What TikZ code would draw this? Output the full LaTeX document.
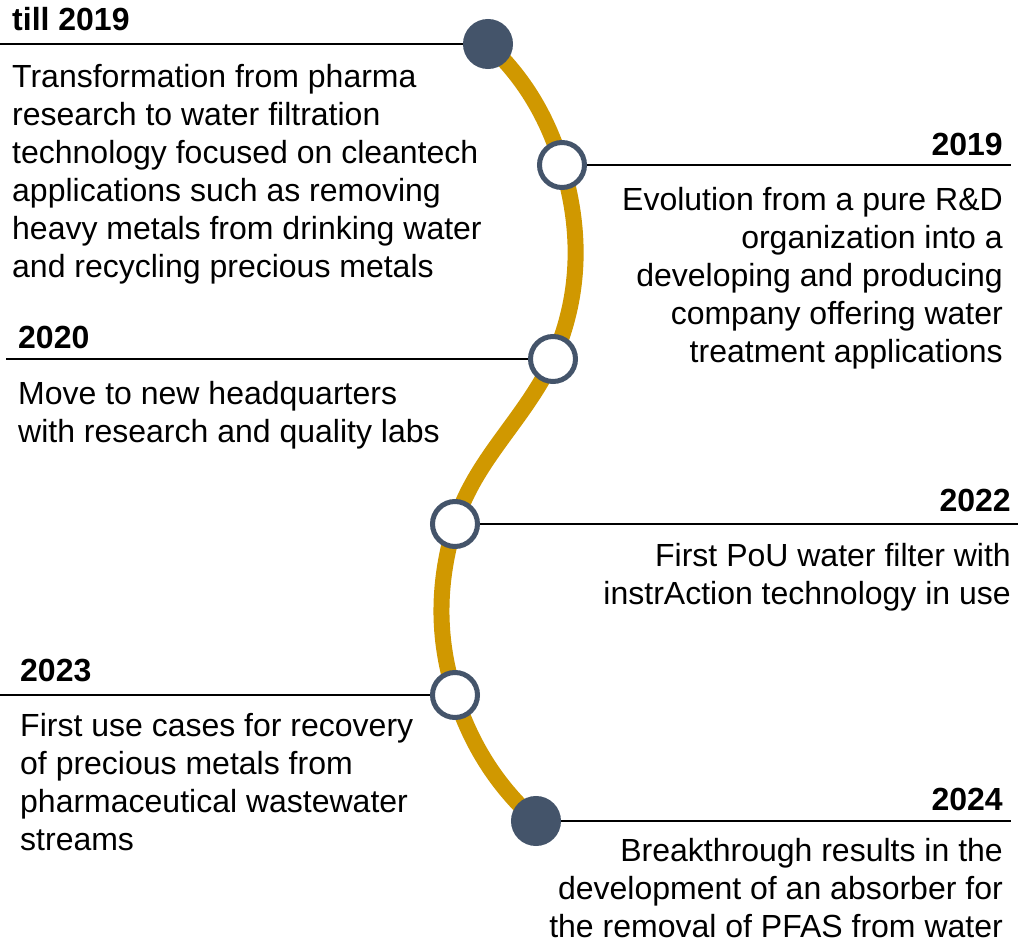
\documentclass[tikz,border=0pt]{standalone}
\usepackage{fontspec}
\setmainfont{Liberation Sans}
\usepackage{tikz}

\definecolor{timegold}{RGB}{208,152,0}
\definecolor{dotblue}{RGB}{68,84,106}

\begin{document}
\begin{tikzpicture}[x=1pt,y=-1pt,
  dot/.style={circle,draw=dotblue,line width=5pt,minimum size=45pt,inner sep=0pt,fill=white},
  fulldot/.style={dot,fill=dotblue},
  year/.style={font=\fontsize{32}{38}\selectfont\bfseries,inner sep=0pt},
  story/.style={font=\fontsize{32}{38}\selectfont,inner sep=0pt},
  yearline/.style={line width=2pt}]

\useasboundingbox (0,0) rectangle (1018,942);

\coordinate (p1) at (488,44);
\coordinate (p2) at (562,165);
\coordinate (p3) at (553,359);
\coordinate (p4) at (455,524);
\coordinate (p5) at (455,695);
\coordinate (p6) at (536,821);

\draw [timegold, line width=16pt, looseness=0.9] (p1) to [out=-43,in=107] (p2) to [out=-73,in=66] (p3) to [out=-115,in=73] (p4) to [out=-107,in=108] (p5) to [out=-72,in=138] (p6);

\node [fulldot] (till) at (p1) {};
\node [dot] (y2019) at (p2) {};
\node [dot] (y2020) at (p3) {};
\node [dot] (y2022) at (p4) {};
\node [dot] (y2023) at (p5) {};
\node [fulldot] (y2024) at (p6) {};

% % % % % % % % % % % % % % % % % % % % % % % % % %

\coordinate (e-till) at (0,44);
\coordinate (e2019) at (1011,165);
\coordinate (e2020) at (6,359);
\coordinate (e2022) at (1018,524);
\coordinate (e2023) at (0,695);
\coordinate (e2024) at (1011,821);

\draw [yearline] (e-till) -- (till);
\draw [yearline] (y2019) -- (e2019);
\draw [yearline] (e2020) -- (y2020);
\draw [yearline] (y2022) -- (e2022);
\draw [yearline] (e2023) -- (y2023);
\draw [yearline] (y2024) -- (e2024);

% base = baseline of the last line
\node [year, anchor=base west] (h-till) at (12,31) {till 2019};
\node [story, anchor=base west, align=left] (t-till) at (12,277) {Transformation from pharma\\research to water filtration\\technology focused on cleantech\\applications such as removing\\heavy metals from drinking water\\and recycling precious metals};

\node [year, anchor=base east] (h2019) at (1003,155) {2019};
\node [story, anchor=base east, align=right] (t2019) at (1003,362) {Evolution from a pure R\&D\\organization into a\\developing and producing\\company offering water\\treatment applications};

\node [year, anchor=base west] (h2020) at (18,348) {2020};
\node [story, anchor=base west, align=left] (t2020) at (18,442) {Move to new headquarters\\with research and quality labs};

\node [year, anchor=base east] (h2022) at (1011,511) {2022};
\node [story, anchor=base east, align=right] (t2022) at (1011,604) {First PoU water filter with\\instrAction technology in use};

\node [year, anchor=base west] (h2023) at (20,681) {2023};
\node [story, anchor=base west, align=left] (t2023) at (20,850) {First use cases for recovery\\of precious metals from\\pharmaceutical wastewater\\streams};

\node [year, anchor=base east] (h2024) at (1003,810) {2024};
\node [story, anchor=base east, align=right] (t2024) at (1003,937) {Breakthrough results in the\\development of an absorber for\\the removal of PFAS from water};
\end{tikzpicture}
\end{document}
